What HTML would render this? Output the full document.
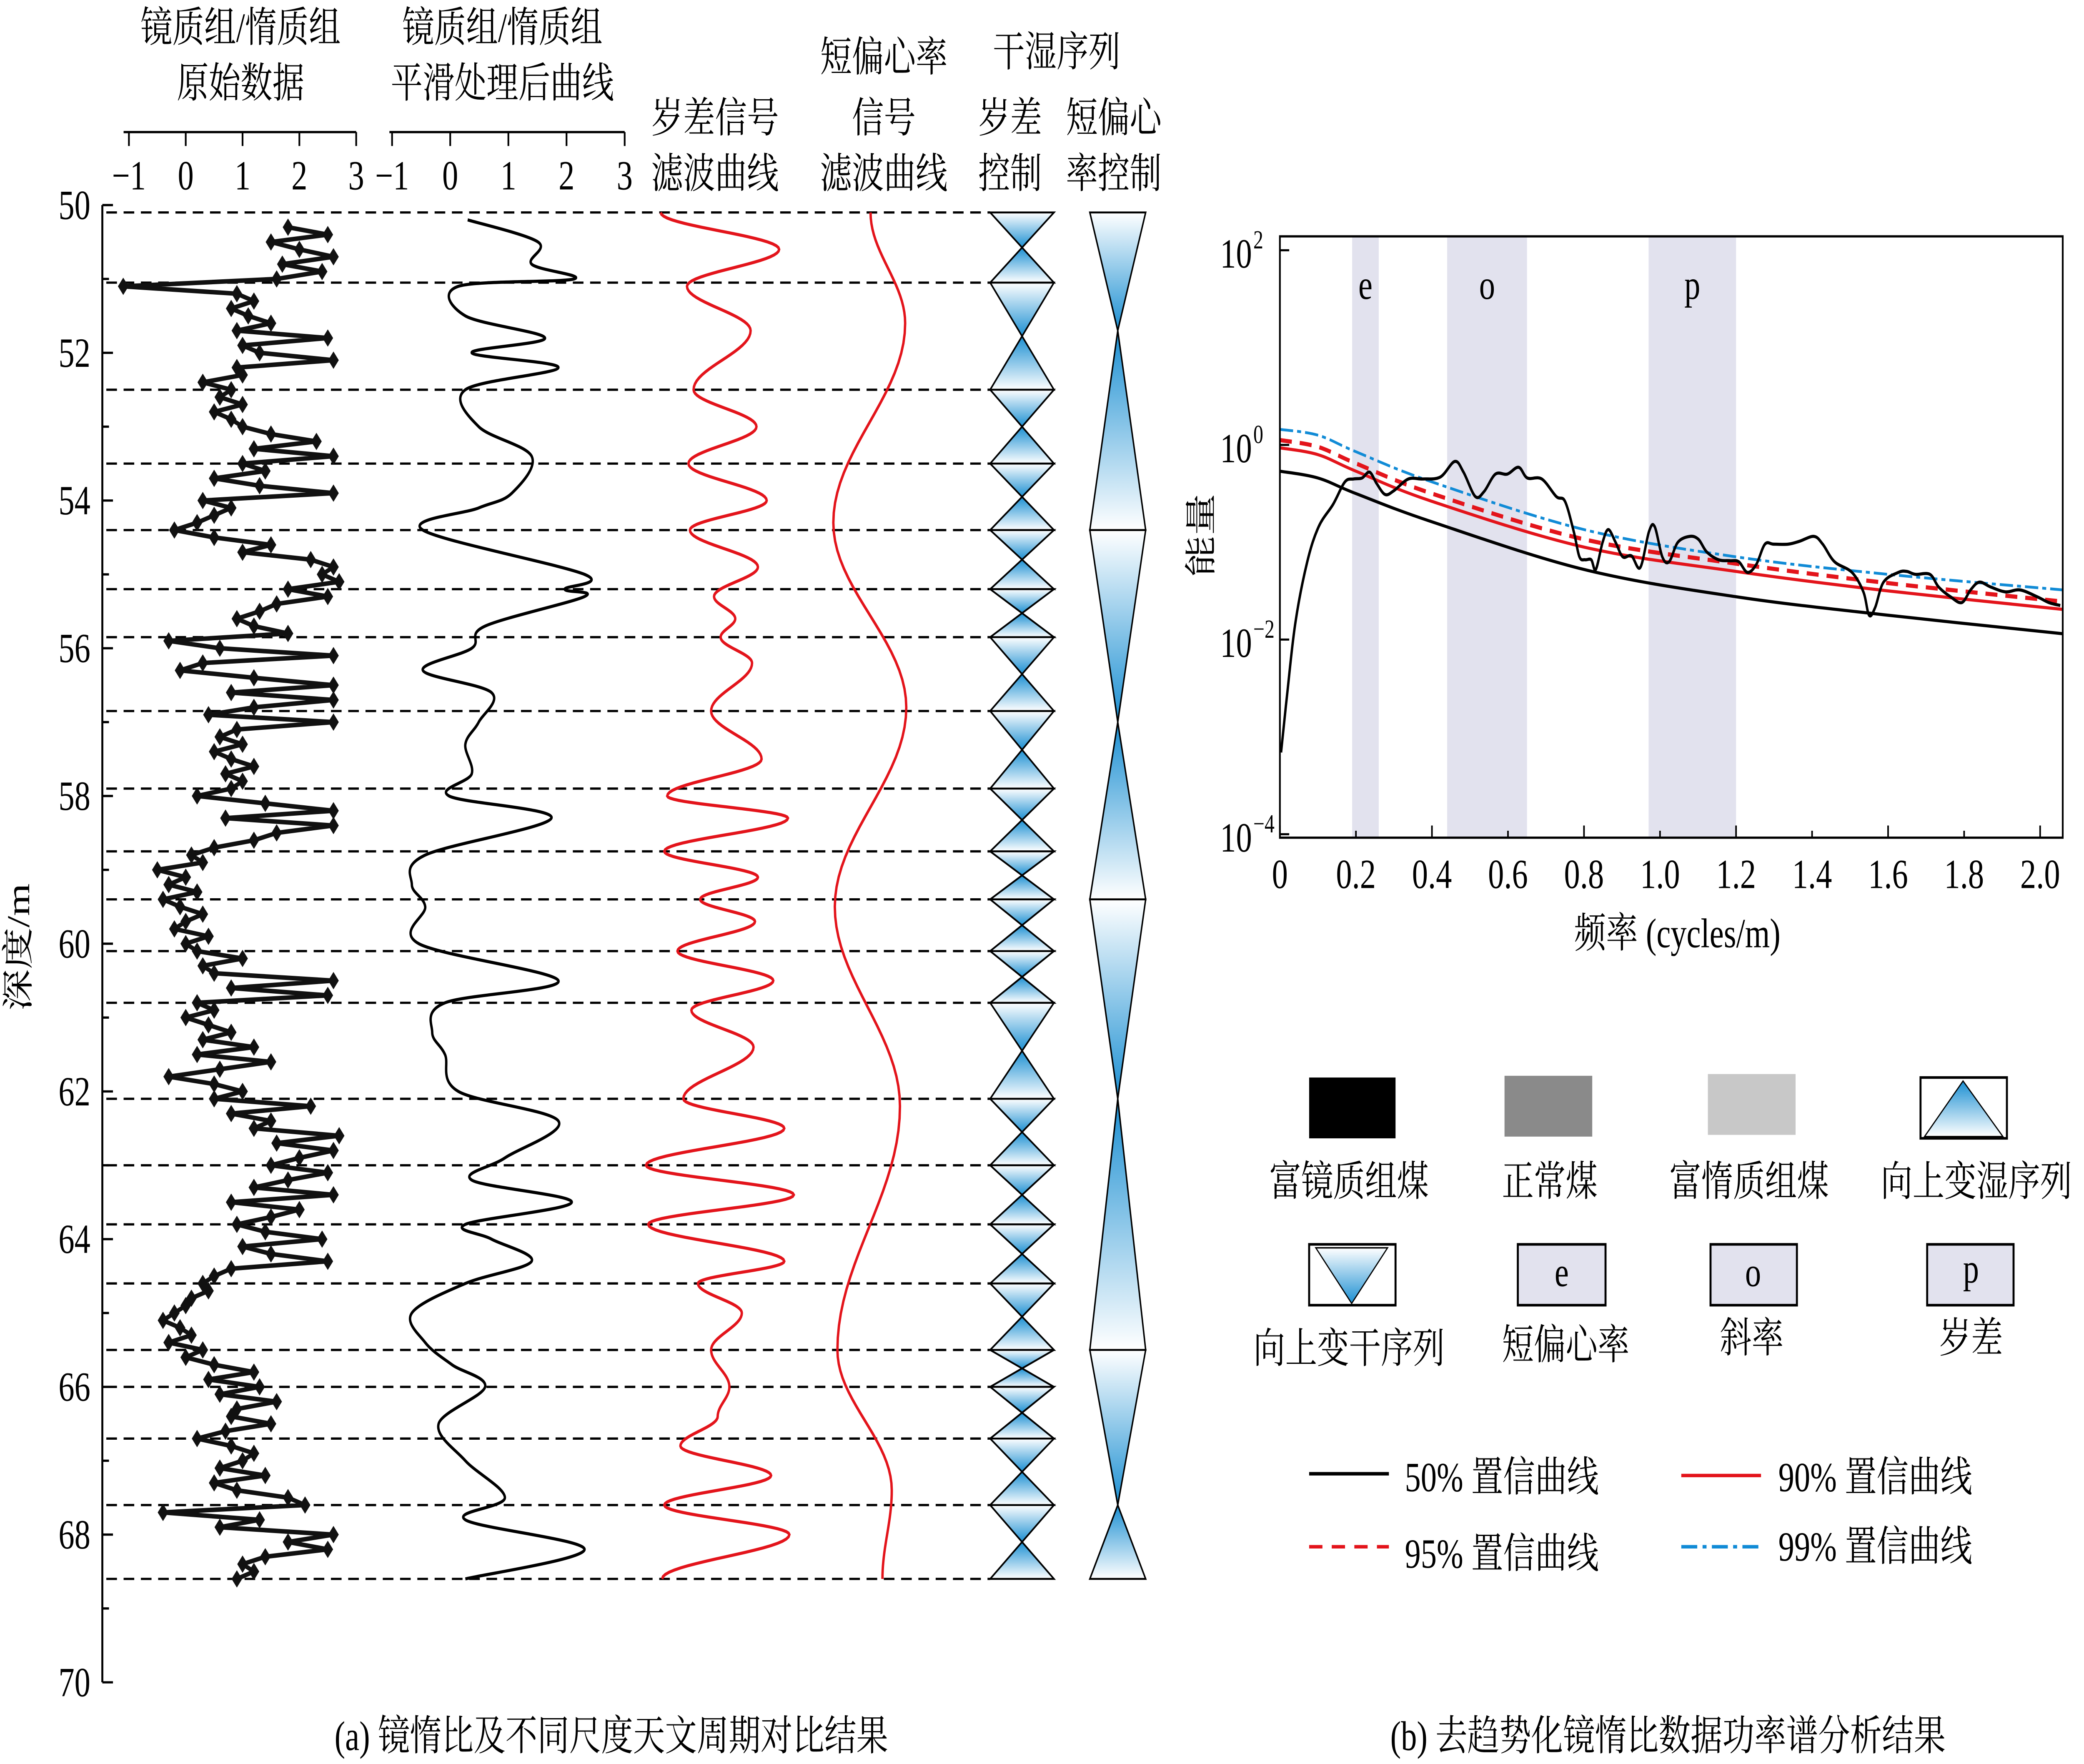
<!DOCTYPE html>
<html><head><meta charset="utf-8">
<style>
html,body{margin:0;padding:0;background:#fff;width:100%;height:100%;overflow:hidden;}
svg{display:block;width:100vw;height:100vh;}
text{font-family:"Liberation Serif","Noto Serif CJK SC",serif;fill:#000;}
</style></head>
<body>
<svg id="chart" xmlns="http://www.w3.org/2000/svg" viewBox="0 0 1568 1015" preserveAspectRatio="none">
<defs>
  <linearGradient id="gDown" x1="0" y1="0" x2="0" y2="1"><stop offset="0" stop-color="#ffffff"/><stop offset="1" stop-color="#1b8fd2"/></linearGradient>
  <linearGradient id="gUp" x1="0" y1="0" x2="0" y2="1"><stop offset="0" stop-color="#1b8fd2"/><stop offset="1" stop-color="#ffffff"/></linearGradient>
</defs>

<g font-size="24" text-anchor="middle">
  <text x="181" y="24">镜质组/惰质组</text>
  <text x="181" y="56">原始数据</text>
  <text x="378" y="24">镜质组/惰质组</text>
  <text x="378" y="56">平滑处理后曲线</text>
  <text x="538" y="76">岁差信号</text>
  <text x="538" y="108">滤波曲线</text>
  <text x="665" y="41">短偏心率</text>
  <text x="665" y="76">信号</text>
  <text x="665" y="108">滤波曲线</text>
  <text x="795" y="38">干湿序列</text>
  <text x="760" y="76">岁差</text>
  <text x="760" y="108">控制</text>
  <text x="838" y="76">短偏心</text>
  <text x="838" y="108">率控制</text>
</g>

<text font-size="24" text-anchor="middle" transform="translate(22,545) rotate(-90)">深度/m</text>

<text x="460" y="1007" font-size="24" text-anchor="middle">(a) 镜惰比及不同尺度天文周期对比结果</text>
<text x="1255" y="1007" font-size="24" text-anchor="middle">(b) 去趋势化镜惰比数据功率谱分析结果</text>

<text x="1262" y="545" font-size="24" text-anchor="middle">频率 (cycles/m)</text>
<text font-size="24" text-anchor="middle" transform="translate(912,308) rotate(-90)">能量</text>

<g font-size="24" text-anchor="middle">
  <rect x="985" y="620" width="65" height="35" fill="#000"/>
  <text x="1015" y="688">富镜质组煤</text>
  <rect x="1132" y="619" width="66" height="35" fill="#8a8a8a"/>
  <text x="1166" y="688">正常煤</text>
  <rect x="1285" y="618" width="66" height="35" fill="#c8c8c8"/>
  <text x="1316" y="688">富惰质组煤</text>
  <rect x="1445" y="620" width="65" height="35" fill="#fff" stroke="#000" stroke-width="1.5"/>
  <polygon points="1477,622 1448,654 1507,654" fill="url(#gUp)" stroke="#000" stroke-width="0.8"/>
  <text x="1487" y="688">向上变湿序列</text>

  <rect x="985" y="716" width="65" height="35" fill="#fff" stroke="#000" stroke-width="1.5"/>
  <polygon points="990,718 1044,718 1017,750" fill="url(#gDown)" stroke="#000" stroke-width="0.8"/>
  <text x="1015" y="784">向上变干序列</text>
  <rect x="1142" y="716" width="66" height="35" fill="#e2e2ee" stroke="#000" stroke-width="1.5"/>
  <text x="1175" y="740">e</text>
  <text x="1178" y="782">短偏心率</text>
  <rect x="1287" y="716" width="65" height="35" fill="#e2e2ee" stroke="#000" stroke-width="1.5"/>
  <text x="1319" y="740">o</text>
  <text x="1318" y="778">斜率</text>
  <rect x="1450" y="716" width="65" height="35" fill="#e2e2ee" stroke="#000" stroke-width="1.5"/>
  <text x="1483" y="738">p</text>
  <text x="1483" y="778">岁差</text>

  <line x1="985" y1="848" x2="1045" y2="848" stroke="#000" stroke-width="2"/>
  <text x="1057" y="858" text-anchor="start">50% 置信曲线</text>
  <line x1="1265" y1="849" x2="1325" y2="849" stroke="#e3141b" stroke-width="2"/>
  <text x="1338" y="858" text-anchor="start">90% 置信曲线</text>
  <line x1="985" y1="890" x2="1045" y2="890" stroke="#e3141b" stroke-width="2" stroke-dasharray="10,7"/>
  <text x="1057" y="902" text-anchor="start">95% 置信曲线</text>
  <line x1="1265" y1="890" x2="1325" y2="890" stroke="#118bd6" stroke-width="2" stroke-dasharray="12,4,3,4"/>
  <text x="1338" y="898" text-anchor="start">99% 置信曲线</text>
</g>
</svg>

<script>
const dashDepths = [50.1,51.05,52.5,53.5,54.4,55.2,55.85,56.85,57.9,58.75,59.4,60.1,60.8,62.1,63.0,63.8,64.6,65.5,66.0,66.7,67.6,68.6];
const depthTicks = [50,52,54,56,58,60,62,64,66,68,70];
const valueTicks = [-1,0,1,2,3];
const rawStartDepth = 50.3;
const rawStep = 0.1;
const rawValues = [1.8,2.5,1.5,2.0,2.6,1.7,2.4,1.6,
 -1.1,
 0.9,1.2,0.8,1.1,1.5,0.9,2.5,1.0,1.3,
 2.6,0.9,1.0,0.3,0.8,0.6,1.0,0.5,0.8,
 1.0,1.5,2.3,1.2,2.6,1.0,1.4,0.5,1.3,2.6,
 0.3,0.8,0.5,0.2,-0.2,0.5,1.5,1.0,2.2,2.6,
 2.4,2.7,1.8,2.5,1.6,1.3,0.9,1.2,1.8,-0.3,
 0.6,2.6,0.3,-0.1,1.2,2.6,0.8,2.6,1.2,0.4,
 2.6,0.9,0.6,1.0,0.5,0.8,1.2,0.7,1.0,0.8,
 0.2,1.4,2.6,0.7,2.6,1.6,1.2,0.5,0.1,0.3,
 -0.5,0.0,-0.3,0.2,-0.4,-0.1,0.3,0.0,-0.2,0.4,
 0.0,0.2,1.0,0.3,0.5,2.6,0.8,2.5,0.2,0.5,
 0.0,0.4,0.8,0.3,1.2,0.2,1.5,0.6,-0.3,0.5,
 1.0,0.5,2.2,0.8,1.5,1.2,2.7,1.6,2.6,2.0,
 1.5,2.5,1.8,1.2,2.6,0.8,2.0,1.5,0.9,1.4,
 2.4,1.0,1.5,2.5,0.8,0.5,0.3,0.4,0.1,0.0,
 -0.2,-0.4,-0.1,0.1,-0.3,0.3,0.0,0.5,1.2,0.4,
 1.3,0.6,1.6,0.9,0.8,1.5,0.7,0.2,0.8,1.2,
 1.0,0.6,1.4,0.5,0.9,1.8,2.1,-0.4,1.3,0.6,
 2.6,1.8,2.5,1.4,1.0,1.2,0.9];
const smoothDepths = [50.2,50.5,50.8,51.0,51.1,51.5,51.8,52.0,52.2,52.5,53.0,53.4,53.9,54.1,54.4,55.0,55.2,55.3,55.7,56.0,56.3,56.6,57.0,57.3,57.7,58.0,58.3,58.8,59.2,59.5,60.0,60.5,60.8,61.2,61.5,62.0,62.4,62.9,63.2,63.5,63.8,64.0,64.3,64.6,65.0,65.4,65.7,66.0,66.5,67.0,67.5,67.8,68.2,68.6];
const smoothValues = [0.30,1.51,1.40,2.13,0.14,0.26,1.63,0.37,1.86,0.26,0.49,1.40,1.06,0.49,-0.47,2.31,1.97,2.31,0.60,0.37,-0.47,0.71,0.49,0.26,0.37,-0.02,1.74,-0.43,-0.66,-0.43,-0.54,1.86,-0.09,-0.31,-0.09,0.14,1.86,0.94,0.37,2.09,0.26,0.71,1.40,0.26,-0.66,-0.43,0.03,0.60,-0.20,0.26,0.94,0.26,2.31,0.26];
const precDepths = [50.1,50.6,51.1,51.7,52.5,53.0,53.5,54.0,54.4,54.9,55.3,55.6,55.85,56.2,56.85,57.5,58.0,58.3,58.75,59.1,59.4,59.7,60.1,60.5,60.9,61.4,62.1,62.5,63.0,63.4,63.8,64.3,64.6,65.0,65.5,66.0,66.4,66.8,67.2,67.6,68.0,68.6];
const precValues = [-0.78,0.84,-0.42,0.45,-0.33,0.53,-0.4,0.67,-0.38,0.55,-0.05,0.24,0.04,0.47,-0.09,0.6,-0.69,0.96,-0.73,0.55,-0.24,0.51,-0.55,0.76,-0.36,0.49,-0.47,0.91,-0.98,1.04,-0.95,0.91,-0.27,0.33,-0.09,0.16,0,-0.51,0.73,-0.73,0.98,-0.76];
const eccDepths = [50.1,51.6,54.3,56.8,59.5,62.2,65.5,67.4,68.6];
const eccValues = [0,0.93,-1,0.96,-0.96,0.79,-0.89,0.57,0.32];
const eccSeqDepths = [50.1,51.7,54.4,57.0,59.4,62.1,65.5,67.6,68.6];
const eccSeqWide = [1,0,1,0,1,0,1,0,1];

const freqTicks = [0,0.2,0.4,0.6,0.8,1.0,1.2,1.4,1.6,1.8,2.0];
const freqTickLabels = ["0","0.2","0.4","0.6","0.8","1.0","1.2","1.4","1.6","1.8","2.0"];
const powerExpTicks = [2,0,-2,-4];
const bandStarts = [0.19,0.44,0.97];
const bandEnds = [0.26,0.65,1.20];
const bandLabels = ["e","o","p"];
const specFreq = [0.003,0.018,0.041,0.072,0.102,0.14,0.171,0.194,0.216,0.236,0.255,0.277,0.30,0.338,0.376,0.422,0.46,0.483,0.514,0.537,0.567,0.598,0.628,0.651,0.689,0.727,0.75,0.773,0.788,0.803,0.819,0.831,0.849,0.864,0.883,0.902,0.925,0.948,0.971,0.986,1.006,1.024,1.047,1.078,1.101,1.123,1.154,1.184,1.207,1.23,1.253,1.276,1.299,1.337,1.367,1.405,1.428,1.459,1.505,1.535,1.55,1.566,1.588,1.627,1.649,1.672,1.71,1.733,1.764,1.794,1.817,1.84,1.87,1.909,1.947,1.992,2.023,2.053];
const specLog10Power = [-3.16,-2.60,-1.82,-1.20,-0.84,-0.61,-0.38,-0.35,-0.34,-0.28,
 -0.40,-0.51,-0.47,-0.35,-0.35,-0.33,-0.17,-0.28,-0.53,-0.48,
 -0.30,-0.30,-0.23,-0.34,-0.35,-0.53,-0.58,-0.89,-1.15,-1.18,
 -1.18,-1.28,-1.00,-0.87,-1.00,-1.15,-1.14,-1.26,-0.89,-0.84,
 -1.15,-1.20,-1.00,-0.94,-0.97,-1.10,-1.18,-1.19,-1.20,-1.31,
 -1.23,-1.02,-1.02,-1.02,-0.99,-0.94,-1.02,-1.20,-1.31,-1.51,
 -1.75,-1.67,-1.41,-1.31,-1.30,-1.33,-1.33,-1.46,-1.56,-1.62,
 -1.49,-1.41,-1.46,-1.51,-1.49,-1.56,-1.62,-1.65];
const confFreq = [0,0.1,0.2,0.4,0.8,1.2,1.6,2.06];
const conf50 = [-0.27,-0.34,-0.50,-0.79,-1.28,-1.56,-1.75,-1.94];
const conf90 = [-0.03,-0.10,-0.27,-0.58,-1.05,-1.30,-1.50,-1.69];
const conf95 = [0.05,-0.02,-0.19,-0.50,-0.97,-1.22,-1.42,-1.61];
const conf99 = [0.16,0.10,-0.07,-0.38,-0.87,-1.15,-1.33,-1.49];

const NS = "http://www.w3.org/2000/svg";
const svg = document.getElementById('chart');
function mk(tag, attrs, parent){ const e=document.createElementNS(NS,tag); for(const k in attrs) e.setAttribute(k,attrs[k]); (parent||svg).appendChild(e); return e; }
function crPath(pts){
  let d = "M"+pts[0][0].toFixed(2)+","+pts[0][1].toFixed(2);
  for(let i=0;i<pts.length-1;i++){
    const p0=pts[Math.max(0,i-1)], p1=pts[i], p2=pts[i+1], p3=pts[Math.min(pts.length-1,i+2)];
    const c1=[p1[0]+(p2[0]-p0[0])/6, p1[1]+(p2[1]-p0[1])/6];
    const c2=[p2[0]-(p3[0]-p1[0])/6, p2[1]-(p3[1]-p1[1])/6];
    d+=" C"+c1[0].toFixed(2)+","+c1[1].toFixed(2)+" "+c2[0].toFixed(2)+","+c2[1].toFixed(2)+" "+p2[0].toFixed(2)+","+p2[1].toFixed(2);
  }
  return d;
}
function cosPath(depths, vals, xf){
  let d="";
  for(let i=0;i<depths.length-1;i++){
    for(let s=0;s<=20;s++){
      const t=s/20, w=(1-Math.cos(Math.PI*t))/2;
      const dep=depths[i]+(depths[i+1]-depths[i])*t;
      const v=vals[i]+(vals[i+1]-vals[i])*w;
      d+=(d?" L":"M")+xf(v).toFixed(2)+","+yD(dep).toFixed(2);
    }
  }
  return d;
}

const yD = d => 118 + (d-50)*42.5;
const x1 = v => 97 + (v+1)*42.75;
const x2 = v => 295 + (v+1)*43.75;
const x3 = v => 540 + v*55;
const x4 = v => 655 + v*28;

const depthAxis = mk('g',{});


const dl = mk('line',{x1:77,y1:yD(50),x2:77,y2:yD(70),stroke:'#000','stroke-width':1.5},depthAxis);


for(let d=50; d<=70; d++){
  const t = mk('line',{x1:77,y1:yD(d),x2:d%2===0?85:82,y2:yD(d),stroke:'#000','stroke-width':1.3},depthAxis);
  
  
}
depthTicks.forEach(d=>{
  const t = mk('text',{x:68,y:yD(d)+8,'font-size':24,'text-anchor':'end'},depthAxis);
  
  
  t.textContent = d;
});

[[x1,93,268],[x2,293,470]].forEach(([xf,a,b],ci)=>{
  const g = mk('g',{});
  
  
  const l = mk('line',{x1:a,y1:76,x2:b,y2:76,stroke:'#000','stroke-width':1.3},g);
  
  
  valueTicks.forEach(v=>{
    const t = mk('line',{x1:xf(v),y1:76,x2:xf(v),y2:84,stroke:'#000','stroke-width':1.3},g);
    
    
    const lb = mk('text',{x:xf(v),y:109,'font-size':24,'text-anchor':'middle'},g);
    
    
    lb.textContent = v<0 ? '\u2212'+Math.abs(v) : v;
  });
});

dashDepths.forEach(d=>{
  const l = mk('line',{x1:80,y1:yD(d),x2:745,y2:yD(d),stroke:'#000','stroke-width':1.3,'stroke-dasharray':'8,5'});
  
  
});

const rawPts = rawValues.map((v,i)=>[x1(v), yD(rawStartDepth+i*rawStep)]);
const rawLine = mk('polyline',{points:rawPts.map(p=>p[0].toFixed(2)+","+p[1].toFixed(2)).join(" "),fill:'none',stroke:'#111','stroke-width':2.6,'stroke-linejoin':'round'});


rawPts.forEach(p=>{
  const m = mk('polygon',{points:`${p[0]},${p[1]-5} ${p[0]+4},${p[1]} ${p[0]},${p[1]+5} ${p[0]-4},${p[1]}`,fill:'#111'});
  
  
});

const sm = mk('path',{d:crPath(smoothDepths.map((d,i)=>[x2(smoothValues[i]),yD(d)])),fill:'none',stroke:'#000','stroke-width':1.8});



const pr = mk('path',{d:cosPath(precDepths,precValues,x3),fill:'none',stroke:'#e3141b','stroke-width':1.8});



const ec = mk('path',{d:cosPath(eccDepths,eccValues,x4),fill:'none',stroke:'#e3141b','stroke-width':1.8});



function tri(cx,hw,yWide,yPt,name){
  const up = yPt < yWide;
  const p = mk('polygon',{points:`${cx-hw},${yWide} ${cx+hw},${yWide} ${cx},${yPt}`,fill:up?'url(#gUp)':'url(#gDown)',stroke:'#000','stroke-width':1.1});
  
  
}
for(let i=0;i<dashDepths.length-1;i++){
  const a=dashDepths[i], b=dashDepths[i+1], m=(a+b)/2;
  tri(769,24,yD(a),yD(m),'precession-drying-triangle');
  tri(769,24,yD(b),yD(m),'precession-wetting-triangle');
}
for(let i=0;i<eccSeqDepths.length-1;i++){
  const a=eccSeqDepths[i], b=eccSeqDepths[i+1];
  if(eccSeqWide[i]) tri(841,21,yD(a),yD(b),'eccentricity-drying-triangle');
  else tri(841,21,yD(b),yD(a),'eccentricity-wetting-triangle');
}

const fx = f => 963 + f*286;
const ly = l => 256 - 56*l;
const L=963, R=1552, T=136, B=482;
bandStarts.forEach((s,i)=>{
  const r = mk('rect',{x:fx(s),y:T,width:fx(bandEnds[i])-fx(s),height:B-T,fill:'#e2e2ee'});
  
  
  const t = mk('text',{x:(fx(s)+fx(bandEnds[i]))/2,y:172,'font-size':24,'text-anchor':'middle'});
  
  
  t.textContent = bandLabels[i];
});
function confLine(arr,color,dash,w,name){
  const p = mk('path',{d:crPath(confFreq.map((f,i)=>[fx(f),ly(arr[i])])),fill:'none',stroke:color,'stroke-width':w});
  if(dash) p.setAttribute('stroke-dasharray',dash);
  
  
}
confLine(conf50,'#000',null,1.8,'confidence-50-curve');
confLine(conf99,'#118bd6','10,3,3,3',1.6,'confidence-99-curve');
confLine(conf95,'#e3141b','9,6',2.4,'confidence-95-curve');
confLine(conf90,'#e3141b',null,1.8,'confidence-90-curve');
const spec = mk('path',{d:crPath(specFreq.map((f,i)=>[fx(f),ly(specLog10Power[i])])),fill:'none',stroke:'#000','stroke-width':1.8});



const box = mk('rect',{x:L,y:T,width:R-L,height:B-T,fill:'none',stroke:'#000','stroke-width':1.3});


freqTicks.forEach((f,i)=>{
  const t = mk('line',{x1:fx(f),y1:B,x2:fx(f),y2:B-(i%2===0?7:4),stroke:'#000','stroke-width':1.2});
  
  
  const lb = mk('text',{x:fx(f),y:511,'font-size':24,'text-anchor':'middle'});
  
  
  lb.textContent = freqTickLabels[i];
});
powerExpTicks.forEach(e=>{
  const t = mk('line',{x1:L,y1:ly(e),x2:L+7,y2:ly(e),stroke:'#000','stroke-width':1.2});
  
  
  const lb = mk('text',{x:942,y:ly(e)+10,'font-size':24,'text-anchor':'end'});
  
  
  lb.textContent = '10';
  const sup = mk('tspan',{x:943,dy:-11,'font-size':15,'text-anchor':'start'},lb);
  sup.textContent = e<0 ? '\u2212'+Math.abs(e) : String(e);
});
</script>
</body></html>
